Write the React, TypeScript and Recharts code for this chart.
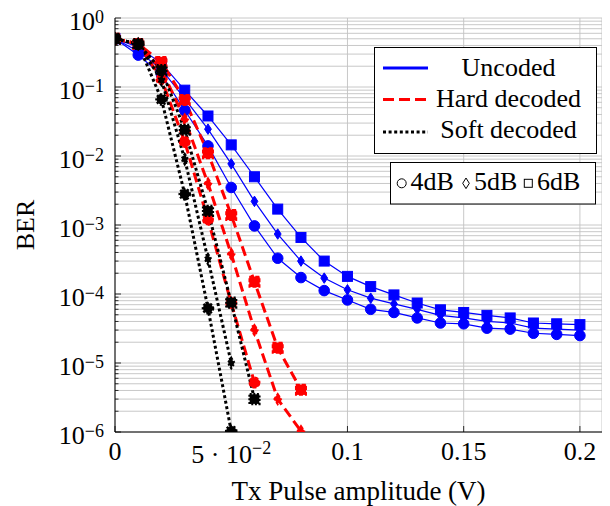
import React from 'react';
import { ComposedChart, Line, XAxis, YAxis, CartesianGrid, Legend } from 'recharts';

const FONT = '"Liberation Serif", "Times New Roman", "DejaVu Serif", serif';

// Tx pulse amplitude (V)
const txAmplitude = [0, 0.01, 0.02, 0.03, 0.04, 0.05, 0.06, 0.07, 0.08, 0.09, 0.1, 0.11, 0.12, 0.13, 0.14, 0.15, 0.16, 0.17, 0.18, 0.19, 0.2];

// Uncoded BER
const uncoded4dB = [0.5, 0.29, 0.15, 0.046, 0.014, 0.0035, 0.00097, 0.00033, 0.000173, 0.000112, 0.000082, 0.00006, 0.000054, 0.000045, 0.000038, 0.000037, 0.000032, 0.000031, 0.000027, 0.000026, 0.000025];
const uncoded5dB = [0.5, 0.33, 0.18, 0.068, 0.0245, 0.0077, 0.0022, 0.00074, 0.0003, 0.00017, 0.000115, 0.000087, 0.000072, 0.00006, 0.000049, 0.000045, 0.00004, 0.000038, 0.000032, 0.000031, 0.00003];
const uncoded6dB = [0.5, 0.38, 0.22, 0.09, 0.038, 0.0145, 0.005, 0.0017, 0.00066, 0.0003, 0.00018, 0.000128, 0.000097, 0.000074, 0.000059, 0.000054, 0.000049, 0.000045, 0.000038, 0.000037, 0.000036];

// Hard decoded BER
const hard4dB = [0.5, 0.42, 0.13, 0.016, 0.0012, 0.000074, 0.0000052];
const hard5dB = [0.5, 0.42, 0.18, 0.034, 0.004, 0.00038, 0.00003, 0.000003, 0.00000103];
const hard6dB = [0.5, 0.42, 0.23, 0.065, 0.011, 0.0014, 0.00015, 0.0000166, 0.0000041];

// Soft decoded BER
const soft4dB = [0.5, 0.42, 0.066, 0.0028, 0.000062, 0.00000103];
const soft5dB = [0.5, 0.42, 0.126, 0.009, 0.00032, 0.00001];
const soft6dB = [0.5, 0.42, 0.176, 0.024, 0.0016, 0.000075, 0.000003];

// Axis ticks
const yDecades = [1e-6, 1e-5, 1e-4, 1e-3, 1e-2, 1e-1, 1];
const yDecadeExponents = ['−6', '−5', '−4', '−3', '−2', '−1', '0'];
const yMinorMultipliers = [2, 3, 4, 5, 6, 7, 8, 9];
const xTicks = [0, 0.05, 0.1, 0.15, 0.2];
const xTickBase = ['0', '5 · 10', '0.1', '0.15', '0.2'];
const xTickSup = ['', '−2', '', '', ''];

const yTicks: number[] = [];
yDecades.forEach((d, i) => {
  yTicks.push(d);
  if (i < yDecades.length - 1) yMinorMultipliers.forEach((m) => yTicks.push(d * m));
});

const decadeIndex = (v: number) => {
  const l = Math.log10(v);
  if (Math.abs(l - Math.round(l)) < 1e-9) return yDecades.findIndex((d) => Math.abs(Math.log10(d) - l) < 1e-9);
  return -1;
};

const toPoints = (vals: number[]) => vals.map((y, i) => ({ x: txAmplitude[i], y }));

const BLUE = '#0000ff';
const RED = '#ff0000';
const BLACK = '#000000';

type Shape = 'circle' | 'diamond' | 'square';

const makeDot = (shape: Shape, color: string, size: number, dash: string | undefined, sw: number) => (props: any) => {
  const { cx, cy, index } = props;
  if (cx == null || cy == null) return <g key={`e${index}`} />;
  const common = { fill: color, stroke: color, strokeWidth: sw, strokeDasharray: dash };
  if (shape === 'circle') return <circle key={`d${index}`} cx={cx} cy={cy} r={size} {...common} />;
  if (shape === 'square')
    return <rect key={`d${index}`} x={cx - size} y={cy - size} width={size * 2} height={size * 2} {...common} />;
  const w = size * 0.68;
  return (
    <polygon
      key={`d${index}`}
      points={`${cx},${cy - size * 1.05} ${cx + w},${cy} ${cx},${cy + size * 1.05} ${cx - w},${cy}`}
      {...common}
    />
  );
};

const seriesList = [
  { name: 'u4', data: uncoded4dB, color: BLUE, width: 1.2, dash: undefined, shape: 'circle' as Shape, size: 5.3, mdash: undefined, msw: 1 },
  { name: 'u5', data: uncoded5dB, color: BLUE, width: 1.2, dash: undefined, shape: 'diamond' as Shape, size: 5, mdash: undefined, msw: 1 },
  { name: 'u6', data: uncoded6dB, color: BLUE, width: 1.2, dash: undefined, shape: 'square' as Shape, size: 5, mdash: undefined, msw: 1 },
  { name: 'h4', data: hard4dB, color: RED, width: 3, dash: '10 5', shape: 'circle' as Shape, size: 5.2, mdash: '4 2', msw: 1.6 },
  { name: 'h5', data: hard5dB, color: RED, width: 3, dash: '10 5', shape: 'diamond' as Shape, size: 5.2, mdash: '4 2', msw: 1.6 },
  { name: 'h6', data: hard6dB, color: RED, width: 3, dash: '10 5', shape: 'square' as Shape, size: 5.2, mdash: '4 2', msw: 1.6 },
  { name: 's4', data: soft4dB, color: BLACK, width: 3, dash: '3 2.6', shape: 'circle' as Shape, size: 5, mdash: '2 1.6', msw: 2.6 },
  { name: 's5', data: soft5dB, color: BLACK, width: 3, dash: '3 2.6', shape: 'diamond' as Shape, size: 4.6, mdash: '2 1.6', msw: 2.6 },
  { name: 's6', data: soft6dB, color: BLACK, width: 3, dash: '3 2.6', shape: 'square' as Shape, size: 4.8, mdash: '2 1.6', msw: 2.6 },
];

const LeftTick = (props: any) => {
  const { x, y, payload } = props;
  const di = decadeIndex(payload.value);
  const major = di >= 0;
  return (
    <g>
      <line x1={x} x2={x + (major ? 6 : 3.5)} y1={y} y2={y} stroke="#000" strokeWidth={0.8} />
      {major && (
        <text x={x - 11} y={y + 11.5} textAnchor="end" fontFamily={FONT} fontSize={26} fill="#000">
          10
          <tspan dy={-7} fontSize={18}>
            {yDecadeExponents[di]}
          </tspan>
        </text>
      )}
    </g>
  );
};

const RightTick = (props: any) => {
  const { x, y, payload } = props;
  const major = decadeIndex(payload.value) >= 0;
  return <line x1={x} x2={x - (major ? 6 : 3.5)} y1={y} y2={y} stroke="#000" strokeWidth={0.8} />;
};

const BottomTick = (props: any) => {
  const { x, y, payload } = props;
  const i = xTicks.findIndex((t) => Math.abs(t - payload.value) < 1e-9);
  const sup = xTickSup[i];
  return (
    <g>
      <line x1={x} x2={x} y1={y} y2={y - 6} stroke="#000" strokeWidth={0.8} />
      <text x={x} y={y + (sup ? 31 : 27.5)} textAnchor="middle" fontFamily={FONT} fontSize={26} fill="#000">
        {xTickBase[i]}
        {sup ? (
          <tspan dy={-9} fontSize={18}>
            {sup}
          </tspan>
        ) : null}
      </text>
    </g>
  );
};

const TopTick = (props: any) => {
  const { x, y } = props;
  return <line x1={x} x2={x} y1={y} y2={y + 6} stroke="#000" strokeWidth={0.8} />;
};

const legendEntries = [
  { label: 'Uncoded', color: BLUE, dash: undefined, width: 3 },
  { label: 'Hard decoded', color: RED, dash: '11 5', width: 3 },
  { label: 'Soft decoded', color: BLACK, dash: '3 2.6', width: 3 },
];
const legendRowY = [21, 52.5, 85];
const legendTextY = [28.5, 60, 91];

const renderLegend = () => (
  <svg width={226} height={162} style={{ display: 'block', overflow: 'visible' }}>
    <rect x={0.5} y={0.5} width={222} height={106} fill="#fff" stroke="#000" strokeWidth={1} />
    {legendEntries.map((e, i) => (
      <g key={e.label}>
        <line x1={9} x2={54} y1={legendRowY[i]} y2={legendRowY[i]} stroke={e.color} strokeWidth={e.width} strokeDasharray={e.dash} />
        <text x={134.5} y={legendTextY[i]} textAnchor="middle" fontFamily={FONT} fontSize={26} fill="#000">
          {e.label}
        </text>
      </g>
    ))}
    <rect x={16.5} y={115.5} width={205} height={41.5} fill="#fff" stroke="#000" strokeWidth={1} />
    <circle cx={27.7} cy={136.3} r={4.5} fill="none" stroke="#000" strokeWidth={1} />
    <text x={36.5} y={142.5} fontFamily={FONT} fontSize={26} fill="#000">4dB</text>
    <polygon points="92,131 95.3,136.3 92,141.6 88.7,136.3" fill="none" stroke="#000" strokeWidth={1} />
    <text x={100} y={142.5} fontFamily={FONT} fontSize={26} fill="#000">5dB</text>
    <rect x={150.3} y={132.3} width={8} height={8} fill="none" stroke="#000" strokeWidth={1} />
    <text x={163} y={142.5} fontFamily={FONT} fontSize={26} fill="#000">6dB</text>
  </svg>
);

export default function App() {
  const xDomain: [number, number] = [0, 0.2095];
  const yDomain: [number, number] = [1e-6, 1];
  return (
    <div style={{ width: 602, height: 498 }}>
      <ComposedChart width={602} height={498} margin={{ top: 10, right: 8, bottom: 0, left: 0 }}>
        <CartesianGrid xAxisId="B" yAxisId="L" stroke="#c2c2c2" strokeWidth={0.9} />
        <XAxis
          xAxisId="B"
          dataKey="x"
          type="number"
          domain={xDomain}
          allowDataOverflow
          ticks={xTicks}
          interval={0}
          tickSize={0}
          tickMargin={0}
          tickLine={false}
          tick={BottomTick}
          axisLine={{ stroke: '#000', strokeWidth: 1 }}
          height={74}
          label={{
            content: (p: any) => {
              const vb = p.viewBox || {};
              return (
                <text x={vb.x + vb.width / 2} y={vb.y + 67.5} textAnchor="middle" fontFamily={FONT} fontSize={27} fill="#000">
                  Tx Pulse amplitude (V)
                </text>
              );
            },
          }}
        />
        <XAxis
          xAxisId="T"
          orientation="top"
          dataKey="x"
          type="number"
          domain={xDomain}
          allowDataOverflow
          ticks={xTicks}
          interval={0}
          tickSize={0}
          tickMargin={0}
          tickLine={false}
          tick={TopTick}
          axisLine={{ stroke: '#000', strokeWidth: 1 }}
          height={0}
        />
        <YAxis
          yAxisId="L"
          type="number"
          scale="log"
          domain={yDomain}
          allowDataOverflow
          ticks={yTicks}
          interval={0}
          tickSize={0}
          tickMargin={0}
          tickLine={false}
          tick={LeftTick}
          axisLine={{ stroke: '#000', strokeWidth: 1 }}
          width={107}
          label={{
            content: (p: any) => {
              const vb = p.viewBox || {};
              const cx = vb.x + 25.5;
              const cy = vb.y + vb.height / 2;
              return (
                <text x={cx} y={cy} transform={`rotate(-90, ${cx}, ${cy})`} textAnchor="middle" fontFamily={FONT} fontSize={26} fill="#000">
                  BER
                </text>
              );
            },
          }}
        />
        <YAxis
          yAxisId="R"
          orientation="right"
          type="number"
          scale="log"
          domain={yDomain}
          allowDataOverflow
          ticks={yTicks}
          interval={0}
          tickSize={0}
          tickMargin={0}
          tickLine={false}
          tick={RightTick}
          axisLine={{ stroke: '#000', strokeWidth: 1 }}
          width={0}
        />
        {seriesList.map((s) => (
          <Line
            key={s.name}
            xAxisId="B"
            yAxisId="L"
            data={toPoints(s.data)}
            dataKey="y"
            type="linear"
            stroke={s.color}
            strokeWidth={s.width}
            strokeDasharray={s.dash}
            dot={makeDot(s.shape, s.color, s.size, s.mdash, s.msw)}
            activeDot={false}
            isAnimationActive={false}
            legendType="none"
          />
        ))}
        <Legend
          layout="vertical"
          align="center"
          verticalAlign="middle"
          content={renderLegend}
          wrapperStyle={{ left: 366, top: 39, width: 226, height: 162 }}
        />
      </ComposedChart>
    </div>
  );
}
